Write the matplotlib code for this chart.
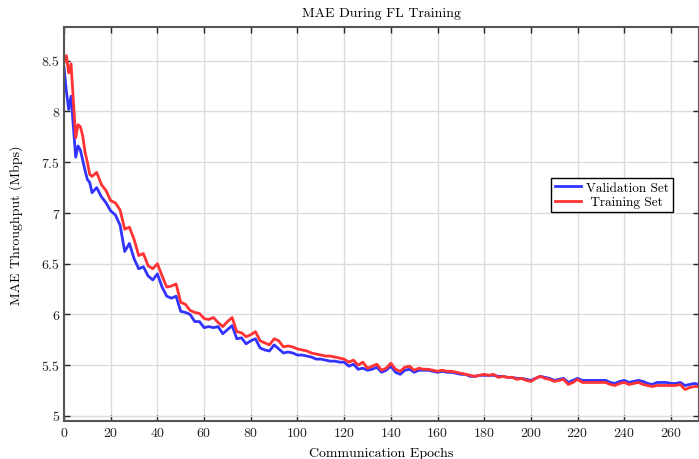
import numpy as np
import matplotlib
matplotlib.use("Agg")
import matplotlib.pyplot as plt
from matplotlib.ticker import FuncFormatter

# epochs (dense at the start, every 2 after)
epochs = list(range(0, 12)) + list(range(12, 273, 2))

val_mae = [8.43, 8.20, 8.02, 8.15, 7.85, 7.55, 7.66, 7.62, 7.52, 7.42, 7.33, 7.30,
           7.20, 7.25, 7.16, 7.10, 7.02, 6.98, 6.88, 6.62, 6.70, 6.55,
           6.45, 6.47, 6.38, 6.34, 6.40, 6.27, 6.18, 6.16, 6.18, 6.03,
           6.02, 6.00, 5.93, 5.93, 5.87, 5.88, 5.87, 5.88, 5.81, 5.85,
           5.89, 5.76, 5.77, 5.71, 5.74, 5.76, 5.67, 5.65, 5.64, 5.70,
           5.66, 5.62, 5.63, 5.62, 5.60, 5.60, 5.59, 5.58, 5.56, 5.56,
           5.55, 5.54, 5.54, 5.53, 5.53, 5.49, 5.51, 5.46, 5.47, 5.45,
           5.46, 5.48, 5.43, 5.45, 5.49, 5.43, 5.41, 5.45, 5.46, 5.43,
           5.45, 5.45, 5.45, 5.44, 5.43, 5.44, 5.43, 5.43, 5.42, 5.41,
           5.41, 5.39, 5.39, 5.40, 5.40, 5.40, 5.40, 5.39, 5.39, 5.38,
           5.38, 5.37, 5.37, 5.36, 5.35, 5.37, 5.39, 5.38, 5.37, 5.35,
           5.36, 5.37, 5.33, 5.35, 5.37, 5.35, 5.35, 5.35, 5.35, 5.35,
           5.35, 5.33, 5.32, 5.34, 5.35, 5.33, 5.34, 5.35, 5.34, 5.32,
           5.31, 5.33, 5.33, 5.33, 5.32, 5.32, 5.33, 5.30, 5.31, 5.32, 5.31]

train_mae = [8.48, 8.55, 8.38, 8.47, 8.10, 7.74, 7.87, 7.85, 7.76, 7.60, 7.50, 7.38,
             7.36, 7.40, 7.28, 7.22, 7.12, 7.10, 7.03, 6.84, 6.86, 6.74,
             6.58, 6.60, 6.48, 6.45, 6.50, 6.38, 6.27, 6.28, 6.30, 6.12,
             6.10, 6.04, 6.02, 6.01, 5.96, 5.95, 5.97, 5.92, 5.88, 5.93,
             5.97, 5.83, 5.82, 5.78, 5.80, 5.83, 5.74, 5.72, 5.70, 5.76,
             5.74, 5.68, 5.69, 5.68, 5.66, 5.65, 5.64, 5.62, 5.61, 5.60,
             5.59, 5.59, 5.58, 5.57, 5.56, 5.53, 5.55, 5.50, 5.53, 5.47,
             5.49, 5.51, 5.45, 5.47, 5.52, 5.46, 5.44, 5.48, 5.49, 5.45,
             5.47, 5.46, 5.46, 5.45, 5.44, 5.45, 5.44, 5.44, 5.43, 5.42,
             5.41, 5.40, 5.39, 5.40, 5.41, 5.40, 5.41, 5.38, 5.39, 5.38,
             5.38, 5.36, 5.37, 5.35, 5.34, 5.37, 5.39, 5.37, 5.36, 5.34,
             5.35, 5.36, 5.31, 5.33, 5.36, 5.33, 5.33, 5.33, 5.33, 5.33,
             5.33, 5.31, 5.30, 5.32, 5.33, 5.31, 5.32, 5.33, 5.31, 5.30,
             5.29, 5.30, 5.30, 5.30, 5.30, 5.30, 5.31, 5.26, 5.28, 5.29, 5.29]

plt.rcParams['font.family'] = 'serif'
plt.rcParams['font.serif'] = ['cmr10', 'DejaVu Serif']
plt.rcParams['mathtext.fontset'] = 'cm'
plt.rcParams['axes.formatter.use_mathtext'] = True

fig = plt.figure(figsize=(6.99, 4.60), dpi=100)
ax = fig.add_axes([0.0916, 0.0826, 0.9084, 0.856])

ax.plot(epochs, val_mae, color=(0.2, 0.2, 1.0), lw=2.0, label='Validation Set')
ax.plot(epochs, train_mae, color=(1.0, 0.2, 0.2), lw=2.0, label=' Training Set')

ax.set_xlim(0, 272)
ax.set_ylim(4.95, 8.83)
ax.set_xticks(range(0, 261, 20))
ax.set_yticks(np.arange(5, 8.51, 0.5))
ax.yaxis.set_major_formatter(FuncFormatter(lambda v, p: '%g' % v))

ax.grid(True, color='#dcdcdc', lw=1)
ax.set_axisbelow(True)
for s in ax.spines.values():
    s.set_color('#555555')
    s.set_linewidth(1.5)
ax.tick_params(direction='in', length=4, width=1, colors='#222222', top=True, right=True, labelsize=10)

ax.set_title('MAE During FL Training', fontsize=10, pad=8)
ax.set_xlabel('Communication Epochs', fontsize=10, labelpad=6)
ax.set_ylabel('MAE Throughput (Mbps)', fontsize=10, labelpad=13)

leg = ax.legend(loc='center', bbox_to_anchor=(0.863, 0.574), fancybox=False,
                edgecolor='black', framealpha=1, fontsize=9.5, handlelength=2.0,
                handletextpad=0.4, borderpad=0.3, labelspacing=0.15)
leg.get_frame().set_linewidth(1.0)

fig.savefig('out.png', dpi=100)
